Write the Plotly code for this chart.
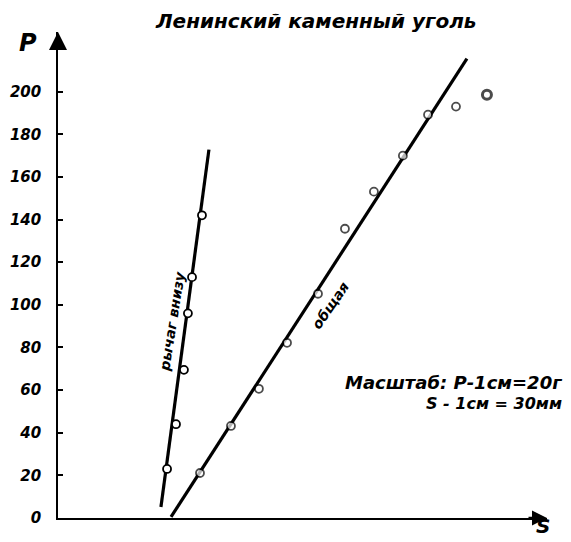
import plotly.graph_objects as go

# ---- data (S in mm, P in g) ----
lever_S = [76.8, 83.1, 88.7, 91.5, 94.4, 101.4]
lever_P = [23, 44, 69.5, 96, 113, 142]
lever_line_S = [72.5, 106.3]
lever_line_P = [5.2, 172.8]

total_S = [100.0, 121.8, 141.5, 161.3, 183.1, 202.1, 222.5, 242.9, 260.6, 280.3, 302.1]
total_P = [21.1, 43.2, 60.6, 82.2, 105.2, 135.7, 153.1, 170.0, 189.2, 193.0, 198.6]
total_line_S = [79.6, 288.0]
total_line_P = [0.5, 215.5]

y_ticks = [0, 20, 40, 60, 80, 100, 120, 140, 160, 180, 200]
y_tick_labels = [str(v) for v in y_ticks]

title_text = "Ленинский каменный уголь"
lever_label = "рычаг внизу"
total_label = "общая"
scale_line1 = "Масштаб: Р-1см=20г"
scale_line2 = "S - 1см = 30мм"

X_MAX = 344.4
Y_MAX = 228
OFF = 8  # page body margin
W, H = 571 - OFF, 542 - OFF
ML, MT = 58 - OFF, 32 - OFF
MR, MB = 24, 24
PW, PH = W - ML - MR, H - MT - MB


def pos(xp, yp):
    """window pixel -> paper fraction"""
    return ((xp - OFF - ML) / PW, (H - MB - (yp - OFF)) / PH)


FONT = dict(family="DejaVu Sans", color="black", style="italic", weight="bold")

fig = go.Figure()
fig.add_trace(go.Scatter(x=lever_line_S, y=lever_line_P, mode="lines",
                         line=dict(color="black", width=3.2), showlegend=False,
                         cliponaxis=False))
fig.add_trace(go.Scatter(x=total_line_S, y=total_line_P, mode="lines",
                         line=dict(color="black", width=3.2), showlegend=False,
                         cliponaxis=False))
fig.add_trace(go.Scatter(x=lever_S, y=lever_P, mode="markers",
                         marker=dict(symbol="circle", size=8, color="white",
                                     line=dict(color="black", width=1.8)),
                         showlegend=False, cliponaxis=False))
fig.add_trace(go.Scatter(x=total_S, y=total_P, mode="markers",
                         marker=dict(symbol="circle", size=[8] * 10 + [9], color="white",
                                     line=dict(color="black", width=[1.8] * 10 + [3])),
                         showlegend=False, cliponaxis=False))

anns = []


def text(xp, yp, s, size, angle=0, xanchor="center"):
    x, y = pos(xp, yp)
    anns.append(dict(x=x, y=y, xref="paper", yref="paper", text=s, showarrow=False,
                     textangle=angle, xanchor=xanchor, yanchor="middle",
                     font=dict(size=size, **FONT)))


text(315, 21, title_text, 20)
text(28, 43, "P", 24)
text(543, 526, "S", 20)
text(172, 322, lever_label, 14, angle=-81)
text(330, 306, total_label, 14, angle=-55)
text(564, 382, scale_line1, 18, xanchor="right")
text(564, 403, scale_line2, 16, xanchor="right")

# axis arrows
anns.append(dict(x=0, y=Y_MAX, xref="x", yref="y", ax=0, ay=18, axref="pixel", ayref="pixel",
                 showarrow=True, arrowhead=2, arrowsize=1.2, arrowwidth=3, arrowcolor="black", text=""))
anns.append(dict(x=X_MAX, y=0, xref="x", yref="y", ax=-20, ay=0, axref="pixel", ayref="pixel",
                 showarrow=True, arrowhead=2, arrowsize=1.2, arrowwidth=2.5, arrowcolor="black", text=""))

fig.update_layout(
    width=W, height=H,
    margin=dict(l=ML, r=MR, t=MT, b=MB, autoexpand=False),
    paper_bgcolor="white", plot_bgcolor="white",
    annotations=anns,
    xaxis=dict(range=[0, X_MAX], showgrid=False, zeroline=False, showline=True,
               linecolor="black", linewidth=1.6, showticklabels=False, ticks=""),
    yaxis=dict(range=[0, Y_MAX], showgrid=False, zeroline=False, showline=True,
               linecolor="black", linewidth=1.6, tickmode="array", tickvals=y_ticks,
               ticktext=y_tick_labels, ticks="inside", ticklen=5, tickwidth=1.5,
               tickcolor="black", ticklabelstandoff=12,
               tickfont=dict(size=15, **FONT)),
)

fig.write_html("out.html")
